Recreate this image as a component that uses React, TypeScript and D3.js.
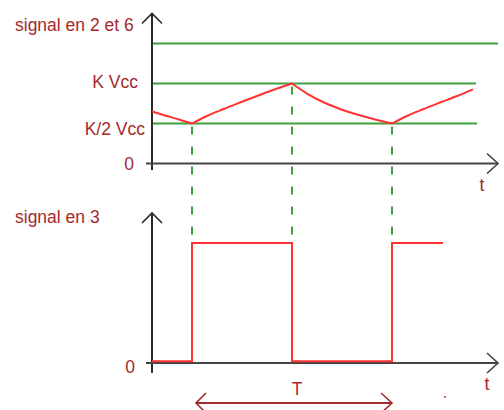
import React from "react";
import * as d3 from "d3";

// ---- data (time in half-period units, voltage in Vcc units) ----
const levelValues = [1, 2 / 3, 1 / 3];
const levelEnds = [3.46, 3.24, 3.25];
const levelLabels = ["", "K Vcc", "K/2 Vcc"];

const capTimes = [0, 0.13, 0.27, 0.4, 0.55, 0.71, 0.88, 1.05, 1.21, 1.4, 1.55, 1.71, 1.88, 2.05, 2.23, 2.4, 2.55, 2.71, 2.88, 3.05, 3.21];
const capValues = [0.433, 0.4, 0.367, 0.333, 0.396, 0.452, 0.508, 0.5625, 0.612, 0.667, 0.583, 0.5125, 0.454, 0.408, 0.367, 0.333, 0.396, 0.452, 0.508, 0.5625, 0.618];

const switchTimes = [0.4, 1.4, 2.4];
const switchValues = [1 / 3, 2 / 3, 1 / 3];

const outTimes = [0, 0.4, 1.4, 2.4, 2.91];
const outValues = [0.015, 1, 0.015, 1, 1];

const periodStart = 0.44;
const periodEnd = 2.4;

const TEXT = "#a32a2a";
const GREEN = "#3f9f3f";
const RED = "#ff3333";
const AXIS = "#2a2a2a";
const FONT = "'Liberation Sans', Arial, sans-serif";

export default function App() {
  const x = d3.scaleLinear().domain([0, 3.46]).range([152, 498]);
  const yTop = d3.scaleLinear().domain([0, 1.25]).range([163.5, 13.5]);
  const yBot = d3.scaleLinear().domain([0, 1.25]).range([363, 213]);

  // draw in segments so the cusps stay sharp
  const seg = (a: number, b: number) =>
    d3
      .line<number>()
      .x((i) => x(capTimes[i]))
      .y((i) => yTop(capValues[i]))
      .curve(d3.curveMonotoneX)(d3.range(a, b + 1)) || "";

  const outLine =
    d3
      .line<number>()
      .x((_, i) => x(outTimes[i]))
      .y((v) => yBot(v))
      .curve(d3.curveStepAfter)(outValues) || "";

  const x0 = x(0);
  const xEnd = x(3.46);

  const chevronUp = (cx: number, cy: number) =>
    `M${cx - 10},${cy + 10} L${cx},${cy} L${cx + 10},${cy + 10}`;
  const chevronRight = (cx: number, cy: number) =>
    `M${cx - 11},${cy - 10} L${cx},${cy} L${cx - 11},${cy + 10}`;
  const chevronLeft = (cx: number, cy: number) =>
    `M${cx + 10},${cy - 10} L${cx},${cy} L${cx + 10},${cy + 10}`;

  const arrowY = 403;

  return (
    <svg
      width={504}
      height={410}
      style={{ position: "absolute", left: 0, top: 0, background: "#fff" }}
      fontFamily={FONT}
    >
      <rect width={504} height={410} fill="#fff" />
      {/* ---------- top panel ---------- */}
      {levelValues.map((v, i) => (
        <line
          key={"lv" + i}
          x1={x0}
          x2={x(levelEnds[i])}
          y1={yTop(v)}
          y2={yTop(v)}
          stroke={GREEN}
          strokeWidth={2}
        />
      ))}
      {/* axes top */}
      <line x1={x0} x2={x0} y1={yTop(1.25)} y2={170} stroke={AXIS} strokeWidth={2} />
      <path d={chevronUp(x0, yTop(1.25))} fill="none" stroke={AXIS} strokeWidth={1.6} />
      <line x1={146} x2={xEnd} y1={yTop(0)} y2={yTop(0)} stroke="#444" strokeWidth={2} />
      <path d={chevronRight(xEnd, yTop(0))} fill="none" stroke="#444" strokeWidth={1.6} />

      {/* dashed switching lines */}
      {switchTimes.map((t, i) => (
        <line
          key={"sw" + i}
          x1={x(t)}
          x2={x(t)}
          y1={yTop(switchValues[i])}
          y2={yBot(1)}
          stroke={GREEN}
          strokeWidth={2}
          strokeDasharray="8 12"
          strokeDashoffset={17}
        />
      ))}

      {/* capacitor voltage */}
      {[
        [0, 3],
        [3, 9],
        [9, 15],
        [15, 20],
      ].map(([a, b], i) => (
        <path key={"cp" + i} d={seg(a, b)} fill="none" stroke={RED} strokeWidth={2} />
      ))}

      <text x={15} y={31} fill={TEXT} fontSize={17.5}>
        signal en 2 et 6
      </text>
      {levelValues.map((v, i) =>
        levelLabels[i] ? (
          <text
            key={"ll" + i}
            x={i === 1 ? 138 : 145}
            y={yTop(v) + (i === 1 ? 4 : 11)}
            fill={TEXT}
            fontSize={17.5}
            textAnchor="end"
          >
            {levelLabels[i]}
          </text>
        ) : null
      )}
      <text x={134} y={170} fill={TEXT} fontSize={17.5} textAnchor="end">
        0
      </text>
      <text x={482} y={191} fill={TEXT} fontSize={17.5} textAnchor="middle">
        t
      </text>

      {/* ---------- bottom panel ---------- */}
      <line x1={x0} x2={x0} y1={yBot(1.25)} y2={373} stroke={AXIS} strokeWidth={2} />
      <path d={chevronUp(x0, yBot(1.25))} fill="none" stroke={AXIS} strokeWidth={1.6} />
      <line x1={146} x2={xEnd} y1={yBot(0)} y2={yBot(0)} stroke="#444" strokeWidth={2} />
      <path d={chevronRight(xEnd, yBot(0))} fill="none" stroke="#444" strokeWidth={1.6} />

      <path d={outLine} fill="none" stroke={RED} strokeWidth={2} />

      <text x={15} y={223} fill={TEXT} fontSize={17.5}>
        signal en 3
      </text>
      <text x={135} y={373} fill={TEXT} fontSize={17.5} textAnchor="end">
        0
      </text>
      <text x={487} y={390} fill={TEXT} fontSize={17.5} textAnchor="middle">
        t
      </text>

      {/* period arrow */}
      <text
        x={(x(periodStart) + x(periodEnd)) / 2 + 3}
        y={395}
        fill={TEXT}
        fontSize={17.5}
        textAnchor="middle"
      >
        T
      </text>
      <line
        x1={x(periodStart)}
        x2={x(periodEnd)}
        y1={arrowY}
        y2={arrowY}
        stroke={TEXT}
        strokeWidth={2}
      />
      <path d={chevronLeft(x(periodStart), arrowY)} fill="none" stroke={TEXT} strokeWidth={1.6} />
      <path d={chevronRight(x(periodEnd), arrowY)} fill="none" stroke={TEXT} strokeWidth={1.6} />
      <circle cx={445} cy={397} r={0.9} fill={TEXT} />
    </svg>
  );
}
